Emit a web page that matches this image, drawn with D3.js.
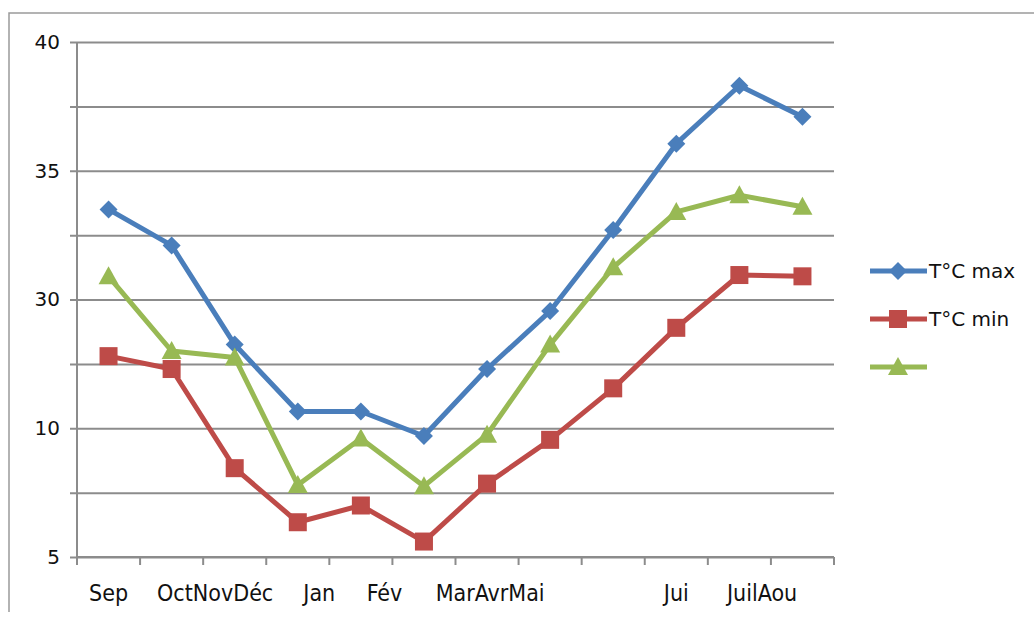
<!DOCTYPE html>
<html>
<head>
<meta charset="utf-8">
<script src="https://cdn.jsdelivr.net/npm/d3@7"></script>
<style>
    body { margin: 0; background: #fff; }
    svg { display: block; }
</style>
</head>
<body>
<div id="chart"></div>
<script>
const width = 1034
const height = 617

// months (x categories)
const months = ["Sep", "Oct", "Nov", "Déc", "Jan", "Fév", "Mar", "Avr", "Mai", "Jui", "Juil", "Aou"]

// series values, in the chart's own vertical units (one gridline every 5)
const tMax = [27.0, 24.2, 16.5, 11.3, 11.3, 9.4, 14.6, 19.1, 25.4, 32.1, 36.6, 34.2]
const tMin = [15.6, 14.6, 6.9, 2.7, 4.0, 1.2, 5.7, 9.1, 13.1, 17.8, 21.9, 21.8]
const tMoy = [21.8, 16.0, 15.5, 5.6, 9.2, 5.5, 9.5, 16.5, 22.5, 26.8, 28.1, 27.2]

const seriesNames = ["T°C max", "T°C min", ""]

// y tick labels as printed on the original (only some gridlines are labelled)
const yTicks = [0, 5, 10, 15, 20, 25, 30, 35, 40]
const yLabels = ["5", "", "10", "", "30", "", "35", "", "40"]

// x labels as printed, with the category position they sit under
const xLabels = ["Sep", "OctNovDéc", "Jan", "Fév", "MarAvrMai", "Jui", "JuilAou"]
const xLabelAt = [0, 1.69, 3.34, 4.375, 6.05, 9.0, 10.36]

const colors = ["#4A7EBB", "#BE4B48", "#98B954"]
const gridColor = "#8c8c8c"

const svg = d3.select("#chart")
    .append("svg")
    .attr("width", width)
    .attr("height", height)

svg.append("rect").attr("width", width).attr("height", height).attr("fill", "#fff")

// outer frame (only top and left edges visible)
svg.append("path")
    .attr("d", "M9,612V13H1034")
    .attr("fill", "none")
    .attr("stroke", "#9a9a9a")
    .attr("stroke-width", 1.5)

const x = d3.scaleBand().domain(months).range([77, 834]).padding(0)
const y = d3.scaleLinear().domain([0, 40]).range([557, 42])

const xc = i => x(months[0]) + x.bandwidth() * (i + 0.5)

// horizontal gridlines + y axis
const yAxis = d3.axisLeft(y)
    .tickValues(yTicks)
    .tickSize(-(834 - 77))
    .tickPadding(17)
    .tickFormat((d, i) => yLabels[i])

const gy = svg.append("g")
    .attr("transform", "translate(77,0)")
    .call(yAxis)
gy.select(".domain").remove()
gy.selectAll(".tick line")
    .attr("x1", -7)
    .attr("stroke", gridColor)
    .attr("stroke-width", 2)
gy.selectAll(".tick text")
    .attr("fill", "#111")
    .style("font-family", "'DejaVu Sans', sans-serif")
    .style("font-size", "20px")

// vertical axis line
svg.append("line")
    .attr("x1", 77).attr("x2", 77)
    .attr("y1", y(40)).attr("y2", y(0))
    .attr("stroke", gridColor).attr("stroke-width", 2)

// x axis with ticks between categories
const xAxis = d3.axisBottom(x).tickSize(8).tickFormat("")
const gx = svg.append("g")
    .attr("transform", "translate(0," + y(0) + ")")
    .call(xAxis)
gx.select(".domain").attr("stroke", gridColor).attr("stroke-width", 2).attr("d", "M77,0H834")
gx.selectAll(".tick").remove()
gx.selectAll(".sep")
    .data(d3.range(months.length + 1))
    .enter()
    .append("line")
    .attr("class", "sep")
    .attr("x1", i => x(months[0]) + i * x.bandwidth())
    .attr("x2", i => x(months[0]) + i * x.bandwidth())
    .attr("y1", 0).attr("y2", 8)
    .attr("stroke", gridColor).attr("stroke-width", 2)

// x labels
svg.selectAll(".xlab")
    .data(xLabels)
    .enter()
    .append("text")
    .attr("class", "xlab")
    .attr("x", (d, i) => xc(xLabelAt[i]))
    .attr("y", 601)
    .attr("text-anchor", "middle")
    .style("font-family", "'DejaVu Sans Condensed', 'DejaVu Sans', sans-serif")
    .style("font-size", "23px")
    .attr("fill", "#111")
    .text(d => d)

// markers
function marker(sel, kind, color) {
    if (kind === 0) {
        sel.append("path").attr("d", "M0,-9L9,0L0,9L-9,0Z").attr("fill", color)
    } else if (kind === 1) {
        sel.append("rect").attr("x", -9).attr("y", -9).attr("width", 18).attr("height", 18).attr("fill", color)
    } else {
        sel.append("path").attr("d", "M0,-10L10,8H-10Z").attr("fill", color)
    }
}

const series = [tMax, tMin, tMoy]
const line = d3.line()
    .x((d, i) => xc(i))
    .y(d => y(d))

series.forEach((vals, s) => {
    svg.append("path")
        .datum(vals)
        .attr("d", line)
        .attr("fill", "none")
        .attr("stroke", colors[s])
        .attr("stroke-width", 5)
        .attr("stroke-linejoin", "round")
    vals.forEach((v, i) => {
        const g = svg.append("g").attr("transform", "translate(" + xc(i) + "," + y(v) + ")")
        marker(g, s, colors[s])
    })
})

// legend
const legend = svg.append("g").attr("transform", "translate(870,271)")
seriesNames.forEach((name, s) => {
    const g = legend.append("g").attr("transform", "translate(0," + s * 48 + ")")
    g.append("line").attr("x1", 0).attr("x2", 57)
        .attr("stroke", colors[s]).attr("stroke-width", 5)
    const m = g.append("g").attr("transform", "translate(28,0)")
    marker(m, s, colors[s])
    g.append("text")
        .attr("x", 59).attr("y", 7)
        .style("font-family", "'DejaVu Sans', sans-serif")
        .style("font-size", "20px")
        .attr("fill", "#111")
        .text(name)
})
</script>
</body>
</html>
